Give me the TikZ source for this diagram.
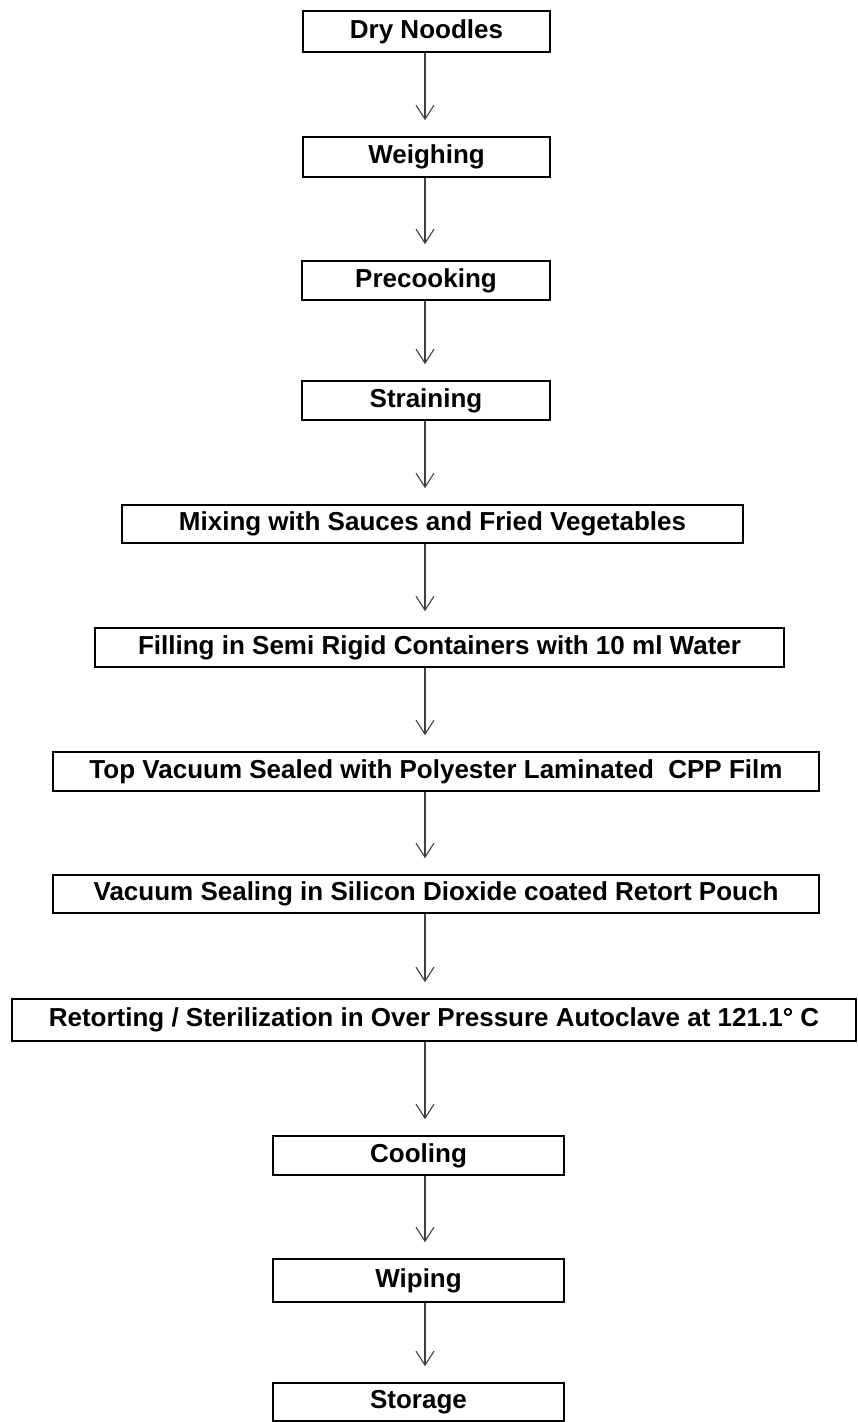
\documentclass[tikz,border=0pt]{standalone}
\usepackage{fontspec}
\setmainfont{Liberation Sans}
\usetikzlibrary{arrows.meta}
\begin{document}
\begin{tikzpicture}[x=0.5pt,y=-0.5pt,
  stepbox/.style={draw=black, line width=0.8pt, rectangle, inner sep=0pt,
    font=\fontsize{13pt}{15pt}\selectfont\bfseries, text=black},
  flow/.style={draw=black!75, line width=0.55pt,
    -{Straight Barb[length=7pt,width=9pt,line width=0.55pt]}, shorten >=8pt}]
\useasboundingbox (0,0) rectangle (857,1422);
\coordinate (axis) at (425,0);
\node[stepbox, minimum width=123.5pt, minimum height=20.5pt] (n1) at (426.5,31.5) {Dry Noodles};
\node[stepbox, minimum width=123.5pt, minimum height=20pt] (n2) at (426.5,157) {Weighing};
\node[stepbox, minimum width=124pt, minimum height=19.5pt] (n3) at (426,280.5) {Precooking};
\node[stepbox, minimum width=124pt, minimum height=19.5pt] (n4) at (426,400.5) {Straining};
\node[stepbox, minimum width=310.5pt, minimum height=19pt] (n5) at (432.5,524) {Mixing with Sauces and Fried Vegetables};
\node[stepbox, minimum width=344.5pt, minimum height=19.5pt] (n6) at (439.5,647.5) {Filling in Semi Rigid Containers with 10 ml Water};
\node[stepbox, minimum width=383pt, minimum height=19.5pt] (n7) at (436,771.5) {Top Vacuum Sealed with Polyester Laminated~~CPP Film};
\node[stepbox, minimum width=383pt, minimum height=19pt] (n8) at (436,894) {Vacuum Sealing in Silicon Dioxide coated Retort Pouch};
\node[stepbox, minimum width=422pt, minimum height=21pt] (n9) at (434,1020) {Retorting / Sterilization in Over Pressure Autoclave at 121.1° C};
\node[stepbox, minimum width=145.5pt, minimum height=19.5pt] (n10) at (418.5,1155.5) {Cooling};
\node[stepbox, minimum width=145.5pt, minimum height=21.5pt] (n11) at (418.5,1280.5) {Wiping};
\node[stepbox, minimum width=145.5pt, minimum height=19pt] (n12) at (418.5,1402) {Storage};
\foreach \a/\b in {n1/n2,n2/n3,n3/n4,n4/n5,n5/n6,n6/n7,n7/n8,n8/n9,n9/n10,n10/n11,n11/n12}
  \draw[flow] (\a.south -| axis) -- (\b.north -| axis);
\end{tikzpicture}
\end{document}
